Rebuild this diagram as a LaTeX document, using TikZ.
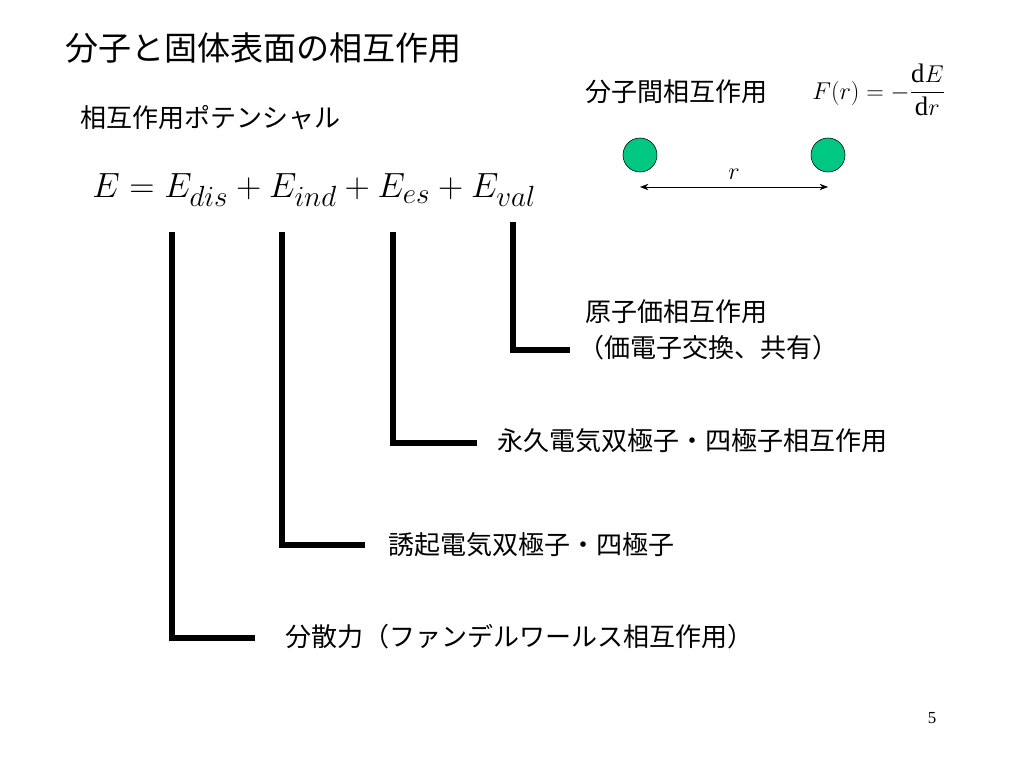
\documentclass[tikz,border=0pt]{standalone}
\usepackage{amsmath}
\usepackage{fontspec}
\setmainfont{Liberation Serif}
\newfontfamily\jp{Noto Sans CJK JP}
\usetikzlibrary{arrows.meta}
\definecolor{ballgreen}{RGB}{0,200,130}
\tikzset{
  jptext/.style={anchor=west,inner sep=0pt,font=\jp\fontsize{18.5}{22}\selectfont},
  branch/.style={line width=3.6pt},
  ball/.style={circle,draw=black,fill=ballgreen,minimum size=0.85cm,inner sep=0pt}
}
\begin{document}
\begin{tikzpicture}[x=0.025cm,y=-0.025cm]
\useasboundingbox (0,0) rectangle (1024,768);
% titles
\node[jptext,font=\jp\fontsize{23.5}{26}\selectfont] (title) at (65,48) {分子と固体表面の相互作用};
\node[jptext] (pot) at (80,118) {相互作用ポテンシャル};
\node[jptext] (inter) at (585,92) {分子間相互作用};
\node[anchor=west,inner sep=0pt,font=\fontsize{19}{22}\selectfont] (force) at (812,90)
  {$F(r)=-\dfrac{\mathrm{d}E}{\mathrm{d}r}$};
% molecules
\node[ball] (m1) at (640,155) {};
\node[ball] (m2) at (828,155) {};
\coordinate (a1) at (640,187);
\coordinate (a2) at (828,187);
\draw[{Stealth[length=6pt]}-{Stealth[length=6pt]}] (a1) -- node[above=2pt,font=\fontsize{16}{18}\selectfont] {$r$} (a2);
% energy
\node[anchor=west,inner sep=0pt,font=\fontsize{29.5}{34}\selectfont] (energy) at (92,190)
  {$E=E_{dis}+E_{ind}+E_{es}+E_{val}$};
% branches
\draw[branch] (172,232) -- (172,638) -- (255,638);
\draw[branch] (282,232) -- (282,545) -- (365,545);
\draw[branch] (393,232) -- (393,443) -- (477,443);
\draw[branch] (513,222) -- (513,350) -- (570,350);
\node[jptext] (val1) at (585,312) {原子価相互作用};
\node[jptext] (val2) at (578,348) {（価電子交換、共有）};
\node[jptext] (es) at (497,441) {永久電気双極子・四極子相互作用};
\node[jptext] (ind) at (388,545) {誘起電気双極子・四極子};
\node[jptext] (dis) at (285,637) {分散力（ファンデルワールス相互作用）};
\node[font=\fontsize{12}{14}\selectfont] (page) at (932,718) {5};
\end{tikzpicture}
\end{document}
